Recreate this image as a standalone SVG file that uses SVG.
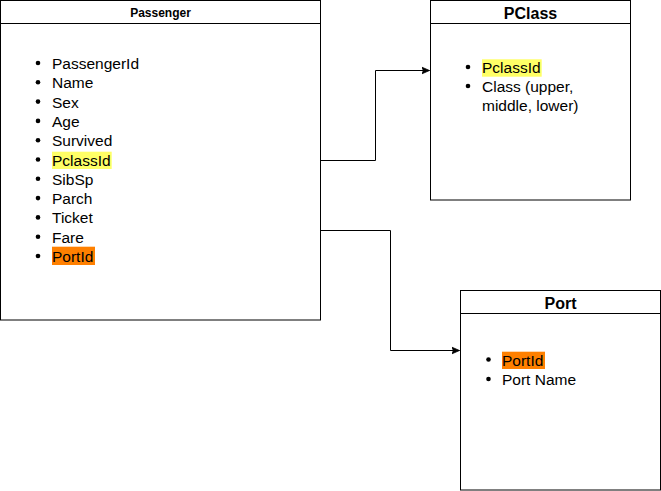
<svg xmlns="http://www.w3.org/2000/svg" width="661" height="491" viewBox="0 0 661 491">
<style>
.box{fill:#fff;stroke:#000;stroke-width:1}
.t{font-family:"Liberation Sans",Arial,sans-serif;font-weight:bold;fill:#000;text-anchor:middle}
.i{font-family:"Liberation Sans",Arial,sans-serif;font-size:15.5px;fill:#000}
.b{fill:#000}
.conn{fill:none;stroke:#000;stroke-width:1}
</style>
<defs>
<marker id="arr" markerWidth="10" markerHeight="10" refX="8" refY="5" orient="auto" markerUnits="userSpaceOnUse">
<path d="M0,1.5 L8,5 L0,8.5 L2,5 Z" fill="#000" stroke="#000" stroke-width="0.8"/>
</marker>
</defs>
<g id="passenger">
<rect class="box" x="0.5" y="0.5" width="320" height="319.5"/>
<line class="box" x1="0.5" y1="23.5" x2="320.5" y2="23.5"/>
<text class="t" x="160.5" y="17" font-size="12">Passenger</text>
<rect x="52" y="151.7" width="59.7" height="17.3" fill="#ffff66"/>
<rect x="52" y="246.7" width="43" height="18.3" fill="#ff8000"/>
<g class="b">
<circle cx="38" cy="63" r="2.3"/><circle cx="38" cy="82.3" r="2.3"/><circle cx="38" cy="101.6" r="2.3"/><circle cx="38" cy="120.9" r="2.3"/><circle cx="38" cy="140.2" r="2.3"/><circle cx="38" cy="159.5" r="2.3"/><circle cx="38" cy="178.8" r="2.3"/><circle cx="38" cy="198.1" r="2.3"/><circle cx="38" cy="217.4" r="2.3"/><circle cx="38" cy="236.7" r="2.3"/><circle cx="38" cy="256" r="2.3"/>
</g>
<text class="i" x="52" y="69">PassengerId</text>
<text class="i" x="52" y="88.3">Name</text>
<text class="i" x="52" y="107.6">Sex</text>
<text class="i" x="52" y="126.9">Age</text>
<text class="i" x="52" y="146.2">Survived</text>
<text class="i" x="52" y="165.5">PclassId</text>
<text class="i" x="52" y="184.8">SibSp</text>
<text class="i" x="52" y="204.1">Parch</text>
<text class="i" x="52" y="223.4">Ticket</text>
<text class="i" x="52" y="242.7">Fare</text>
<text class="i" x="52" y="262">PortId</text>
</g>
<g id="pclass">
<rect class="box" x="430.5" y="0.5" width="200" height="199.5"/>
<line class="box" x1="430.5" y1="23.5" x2="630.5" y2="23.5"/>
<text class="t" x="530.5" y="18.5" font-size="16">PClass</text>
<rect x="482" y="59.3" width="59.7" height="17.4" fill="#ffff66"/>
<circle class="b" cx="468" cy="67" r="2.3"/><circle class="b" cx="468" cy="86" r="2.3"/>
<text class="i" x="482" y="73">PclassId</text>
<text class="i" x="482" y="92">Class (upper,</text>
<text class="i" x="482" y="110.5">middle, lower)</text>
</g>
<g id="port">
<rect class="box" x="460.5" y="290.5" width="200" height="199.5"/>
<line class="box" x1="460.5" y1="313.5" x2="660.5" y2="313.5"/>
<text class="t" x="560.5" y="308.5" font-size="16">Port</text>
<rect x="502" y="351.7" width="43" height="17.3" fill="#ff8000"/>
<circle class="b" cx="488.5" cy="359.5" r="2.3"/><circle class="b" cx="488.5" cy="379" r="2.3"/>
<text class="i" x="502" y="365.5">PortId</text>
<text class="i" x="502" y="385">Port Name</text>
</g>
<g id="connectors">
<path class="conn" d="M320.5,160.5 H375.5 V70.5 H429.5" marker-end="url(#arr)"/>
<path class="conn" d="M320.5,230.5 H390.5 V350.5 H459.5" marker-end="url(#arr)"/>
</g>
</svg>
